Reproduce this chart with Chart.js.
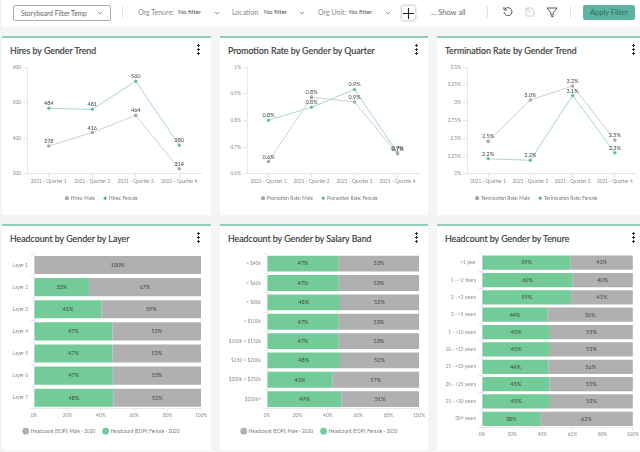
<!DOCTYPE html>
<html>
<head>
<meta charset="utf-8">
<script src="https://cdn.jsdelivr.net/npm/chart.js@4"></script>
<style>
  html, body { margin:0; padding:0; width:640px; height:452px; overflow:hidden; background:#f3f5f5; font-family:Lato,"Noto Sans",sans-serif; }
  #bar { position:absolute; left:2px; top:0; width:638px; height:27px; background:#fff; }
  .t { position:absolute; white-space:nowrap; font-size:7px; color:#666; line-height:10px; }
  .f { font-size:6.4px; color:#555; }
  .card { position:absolute; background:#fff; border-top:2px solid #8fcfc2; box-sizing:border-box; }
  .card h3 { position:absolute; left:8px; top:5px; margin:0; font-size:10px; font-weight:400; -webkit-text-stroke:0.2px #3a3a3a; color:#3a3a3a; white-space:nowrap; line-height:14px; transform:scaleX(0.88); transform-origin:left center; }
  .dots { position:absolute; top:6px; left:195px; width:3px; height:11px; background:radial-gradient(circle at 1.5px 1.5px,#333 1.2px,transparent 1.4px) 0 0/3px 4px; }
  .card canvas { position:absolute; left:0; top:0; }
  #sel { position:absolute; left:13px; top:5px; width:98px; height:16px; border:1px solid #aaa; border-radius:2px; box-sizing:border-box; }
  #plus { position:absolute; left:401px; top:5px; width:15px; height:16px; border:1px solid #ddd; border-radius:3px; box-shadow:0 0 2px #bbb; box-sizing:border-box; }
  #apply { position:absolute; left:583px; top:5px; width:52px; height:15px; background:#5cb5a3; border-radius:2px; color:#2f6a5d; font-size:7.5px; line-height:15px; text-align:center; }
  .sep { position:absolute; top:6px; width:1px; height:12px; background:#e3e3e3; }
  svg { position:absolute; }
</style>
</head>
<body>
<div id="bar"></div>
<div id="sel"></div>
<div class="t" style="left:21px;top:8px;font-size:6.6px">Storyboard Filter Temp</div>
<svg style="left:97px;top:11px" width="6" height="4" fill="none" stroke="#777" stroke-width=".8"><path d="M1 1l2 2 2-2"/></svg>
<div class="sep" style="left:122px"></div>
<div class="t" style="left:138px;top:7px;color:#888">Org Tenure:</div>
<div class="t f" style="left:178px;top:7px">No filter</div>
<svg style="left:214px;top:11px" width="6" height="4" fill="none" stroke="#777" stroke-width=".8"><path d="M1 1l2 2 2-2"/></svg>
<div class="t" style="left:232px;top:7px;color:#888">Location</div>
<div class="t f" style="left:264px;top:7px">No filter</div>
<svg style="left:299px;top:11px" width="6" height="4" fill="none" stroke="#777" stroke-width=".8"><path d="M1 1l2 2 2-2"/></svg>
<div class="t" style="left:318px;top:7px;color:#888">Org Unit:</div>
<div class="t f" style="left:349px;top:7px">No filter</div>
<svg style="left:385px;top:11px" width="6" height="4" fill="none" stroke="#777" stroke-width=".8"><path d="M1 1l2 2 2-2"/></svg>
<div id="plus"><svg style="left:1px;top:2px" width="11" height="11" stroke="#222" stroke-width="1.1"><path d="M0 5.5h11M5.5 0v11"/></svg></div>
<div class="t" style="left:431px;top:8px;font-size:7.5px">... Show all</div>
<div class="sep" style="left:487px"></div>
<svg style="left:502px;top:6px" width="12" height="12" viewBox="0 0 12 12" fill="none" stroke="#555"><path d="M3 3a4 4 0 1 1-1 3M2 1v3h3"/></svg>
<svg style="left:524px;top:6px" width="12" height="12" viewBox="0 0 12 12" fill="none" stroke="#ccc"><path d="M2 2h6l2 2v6H2zM4 2v3h3"/></svg>
<svg style="left:546px;top:6px" width="13" height="12" viewBox="0 0 13 12" fill="none" stroke="#555"><path d="M1 2h10L7 7v4L5 10V7z"/></svg>
<div class="sep" style="left:570px"></div>
<div id="apply">Apply Filter</div>
<div id="charts"></div>

<script>
// line charts
const quarters = ['2021 - Quarter 1', '2021 - Quarter 2', '2021 - Quarter 3', '2021 - Quarter 4'];

const hiresMale = [378, 416, 464, 314];
const hiresFemale = [484, 481, 560, 380];
const hiresMaleLabels = ['378', '416', '464', '314'];
const hiresFemaleLabels = ['484', '481', '560', '380'];
const hiresTicks = ['300', '400', '500', '600'];

const promoMale = [0.646, 0.887, 0.869, 0.675];
const promoFemale = [0.801, 0.849, 0.916, 0.679];
const promoMaleLabels = ['0.6%', '0.8%', '0.9%', '0.7%'];
const promoFemaleLabels = ['0.8%', '0.8%', '0.9%', '0.7%'];
const promoTicks = ['0.6%', '0.7%', '0.8%', '0.9%', '1%'];

const termMale = [2.455, 3.036, 3.233, 2.473];
const termFemale = [2.21, 2.19, 3.10, 2.295];
const termMaleLabels = ['2.5%', '3.0%', '3.2%', '2.5%'];
const termFemaleLabels = ['2.2%', '2.2%', '3.1%', '2.3%'];
const termTicks = ['2%', '2.25%', '2.5%', '2.75%', '3%', '3.25%', '3.5%'];

// bar charts
const layers = ['Layer 1', 'Layer 2', 'Layer 3', 'Layer 4', 'Layer 5', 'Layer 6', 'Layer 7'];
const layerFemale = [0, 33, 40.5, 47, 47, 47.2, 47.5];
const layerMale = [100, 67, 59.5, 53, 53, 52.8, 52.5];
const layerFemaleLabels = ['', '33%', '41%', '47%', '47%', '47%', '48%'];
const layerMaleLabels = ['100%', '67%', '59%', '53%', '53%', '53%', '52%'];

const bands = ['< $40k', '< $60k', '< $80k', '< $100k', '$100k < $150k', '$150 < $200k', '$200k < $250k', '$250k+'];
const bandFemale = [47.2, 47.2, 48, 47.2, 47.2, 48, 43, 49];
const bandMale = [52.8, 52.8, 52, 52.8, 52.8, 52, 57, 51];
const bandFemaleLabels = ['47%', '47%', '48%', '47%', '47%', '48%', '43%', '49%'];
const bandMaleLabels = ['53%', '53%', '52%', '53%', '53%', '52%', '57%', '51%'];

const tenures = ['<1 year', '1 - <2 Years', '2 - <3 years', '3 - <5 years', '5 - <10 years', '10 - <15 years', '15 - <20 years', '20 - <25 years', '25 - <30 years', '30+ years'];
const tenureFemale = [58.5, 60, 59, 43.5, 45, 45, 44, 44.7, 45, 38.5];
const tenureMale = [41.5, 40, 41, 56.5, 55, 55, 56, 55.3, 55, 61.5];
const tenureFemaleLabels = ['59%', '60%', '59%', '44%', '45%', '45%', '44%', '45%', '45%', '38%'];
const tenureMaleLabels = ['41%', '40%', '41%', '56%', '55%', '55%', '56%', '55%', '55%', '62%'];

const GREY = '#b0b0b0';
const GREEN = '#73cb98';
const LINEGREEN = '#a5d9c6';
const LINEGREY = '#cfcfcf';
const FONT = 'Lato,"Noto Sans",sans-serif';
const TICK = '#8a8a8a';
const SMALL = 4.8;

Chart.defaults.font.family = FONT;
Chart.defaults.animation = false;

// values as text on the marks, the library has no built in labels for this
const valueLabels = {
  id: 'valueLabels',
  afterDatasetsDraw(chart) {
    const ctx = chart.ctx;
    ctx.save();
    ctx.font = '5.5px ' + FONT;
    ctx.textAlign = 'center';
    ctx.fillStyle = '#444';
    chart.data.datasets.forEach(function(ds, i) {
      chart.getDatasetMeta(i).data.forEach(function(el, j) {
        const text = ds.valueText[j];
        if (!text) return;
        if (chart.config.type === 'line') {
          ctx.textBaseline = 'bottom';
          ctx.fillText(text, el.x, el.y - 2);
        } else {
          ctx.textBaseline = 'middle';
          ctx.fillText(text, (el.base + el.x) / 2, el.y);
        }
      });
    });
    ctx.restore();
  }
};

function makeCard(box, title) {
  const card = document.createElement('div');
  card.className = 'card';
  card.style.cssText = 'left:' + box.x + 'px;top:' + box.y + 'px;width:' + box.w + 'px;height:' + box.h + 'px';
  card.innerHTML = '<h3>' + title + '</h3><div class="dots"></div>';
  const canvas = document.createElement('canvas');
  canvas.style.width = box.w + 'px';
  canvas.style.height = (box.h - 2) + 'px';
  canvas.width = box.w;
  canvas.height = box.h - 2;
  card.appendChild(canvas);
  document.getElementById('charts').appendChild(card);
  return canvas;
}

function byDataset(a, b) {
  return a.datasetIndex - b.datasetIndex;
}

function lineChart(box, plot, title, names, male, female, maleText, femaleText, ticks, min, max, step) {
  const canvas = makeCard(box, title);
  new Chart(canvas, {
    type: 'line',
    data: {
      labels: quarters,
      datasets: [
        { label: names[0], data: male, valueText: maleText, borderColor: LINEGREY, backgroundColor: '#a8a8a8', borderWidth: 1, pointRadius: 1.8, pointBorderWidth: 0, tension: 0 },
        { label: names[1], data: female, valueText: femaleText, borderColor: LINEGREEN, backgroundColor: '#62b897', borderWidth: 1, pointStyle: 'rectRot', pointRadius: 2, pointBorderWidth: 0, tension: 0 }
      ]
    },
    options: {
      responsive: false,
      devicePixelRatio: 1,
      layout: { padding: { left: 0, right: box.w - plot.right, top: 29, bottom: 4.4 } },
      plugins: {
        tooltip: { enabled: false },
        legend: {
          position: 'bottom',
          labels: { usePointStyle: true, boxWidth: 3, boxHeight: 3, font: { size: SMALL }, color: '#777', padding: 9, sort: byDataset }
        }
      },
      scales: {
        x: {
          offset: true,
          afterFit(s) { s.height = 13; },
          grid: { drawOnChartArea: false, color: '#e4e8ee', tickLength: 4 },
          border: { color: '#e4e8ee' },
          ticks: { font: { size: SMALL }, color: TICK, maxRotation: 0, padding: 1, autoSkip: false }
        },
        y: {
          min: min, max: max,
          afterFit(s) { s.width = plot.left; },
          grid: { drawOnChartArea: false, color: '#e4e8ee', tickLength: 4 },
          border: { color: '#e4e8ee' },
          ticks: {
            stepSize: step, font: { size: SMALL }, color: TICK, padding: 2,
            callback: function(v, i) { return ticks[i]; }
          }
        }
      }
    },
    plugins: [valueLabels]
  });
}

function barChart(box, plot, title, cats, female, male, femaleText, maleText, withLegend) {
  const canvas = makeCard(box, title);
  new Chart(canvas, {
    type: 'bar',
    data: {
      labels: cats,
      datasets: [
        { label: 'Headcount (EOP): Male - 2020', data: male, valueText: maleText, backgroundColor: GREY, order: 2, barPercentage: 1, categoryPercentage: 0.82 },
        { label: 'Headcount (EOP): Female - 2020', data: female, valueText: femaleText, backgroundColor: GREEN, order: 1, barPercentage: 1, categoryPercentage: 0.82 }
      ]
    },
    options: {
      indexAxis: 'y',
      responsive: false,
      devicePixelRatio: 1,
      layout: { padding: { left: 0, right: box.w - plot.right, top: 28, bottom: withLegend ? 6.4 : box.h - 2 - plot.bottom - 12 } },
      plugins: {
        tooltip: { enabled: false },
        legend: {
          display: withLegend,
          position: 'bottom',
          labels: { usePointStyle: true, pointStyle: 'circle', boxWidth: 5, boxHeight: 5, font: { size: SMALL }, color: '#777', padding: 8, sort: byDataset }
        }
      },
      scales: {
        x: {
          stacked: true, min: 0, max: 100,
          afterFit(s) { s.height = 12; },
          grid: { drawOnChartArea: false, color: '#e6e9ee', tickLength: 3 },
          border: { color: '#e6e9ee' },
          ticks: { stepSize: 20, font: { size: SMALL }, color: TICK, maxRotation: 0, padding: 1, callback: function(v) { return v + '%'; } }
        },
        y: {
          stacked: true,
          afterFit(s) { s.width = plot.left; },
          grid: { drawOnChartArea: false, color: '#e6e9ee', tickLength: 4 },
          border: { color: '#e6e9ee' },
          ticks: { font: { size: SMALL }, color: TICK, padding: 2, autoSkip: false }
        }
      }
    },
    plugins: [valueLabels]
  });
}

lineChart({ x: 2, y: 36, w: 209, h: 179 }, { left: 25, right: 199 }, 'Hires by Gender Trend',
  ['Hires: Male', 'Hires: Female'], hiresMale, hiresFemale, hiresMaleLabels, hiresFemaleLabels, hiresTicks, 300, 600, 100);
lineChart({ x: 220, y: 36, w: 208, h: 179 }, { left: 27, right: 199 }, 'Promotion Rate by Gender by Quarter',
  ['Promotion Rate: Male', 'Promotion Rate: Female'], promoMale, promoFemale, promoMaleLabels, promoFemaleLabels, promoTicks, 0.6, 1, 0.1);
lineChart({ x: 437, y: 36, w: 203, h: 179 }, { left: 30, right: 199 }, 'Termination Rate by Gender Trend',
  ['Termination Rate: Male', 'Termination Rate: Female'], termMale, termFemale, termMaleLabels, termFemaleLabels, termTicks, 2, 3.5, 0.25);

barChart({ x: 2, y: 224, w: 209, h: 226 }, { left: 32, right: 199 }, 'Headcount by Gender by Layer',
  layers, layerFemale, layerMale, layerFemaleLabels, layerMaleLabels, true);
barChart({ x: 220, y: 224, w: 208, h: 226 }, { left: 47, right: 199 }, 'Headcount by Gender by Salary Band',
  bands, bandFemale, bandMale, bandFemaleLabels, bandMaleLabels, true);
barChart({ x: 437, y: 224, w: 203, h: 226 }, { left: 45, right: 199, bottom: 201.5 }, 'Headcount by Gender by Tenure',
  tenures, tenureFemale, tenureMale, tenureFemaleLabels, tenureMaleLabels, false);
</script>
</body>
</html>
